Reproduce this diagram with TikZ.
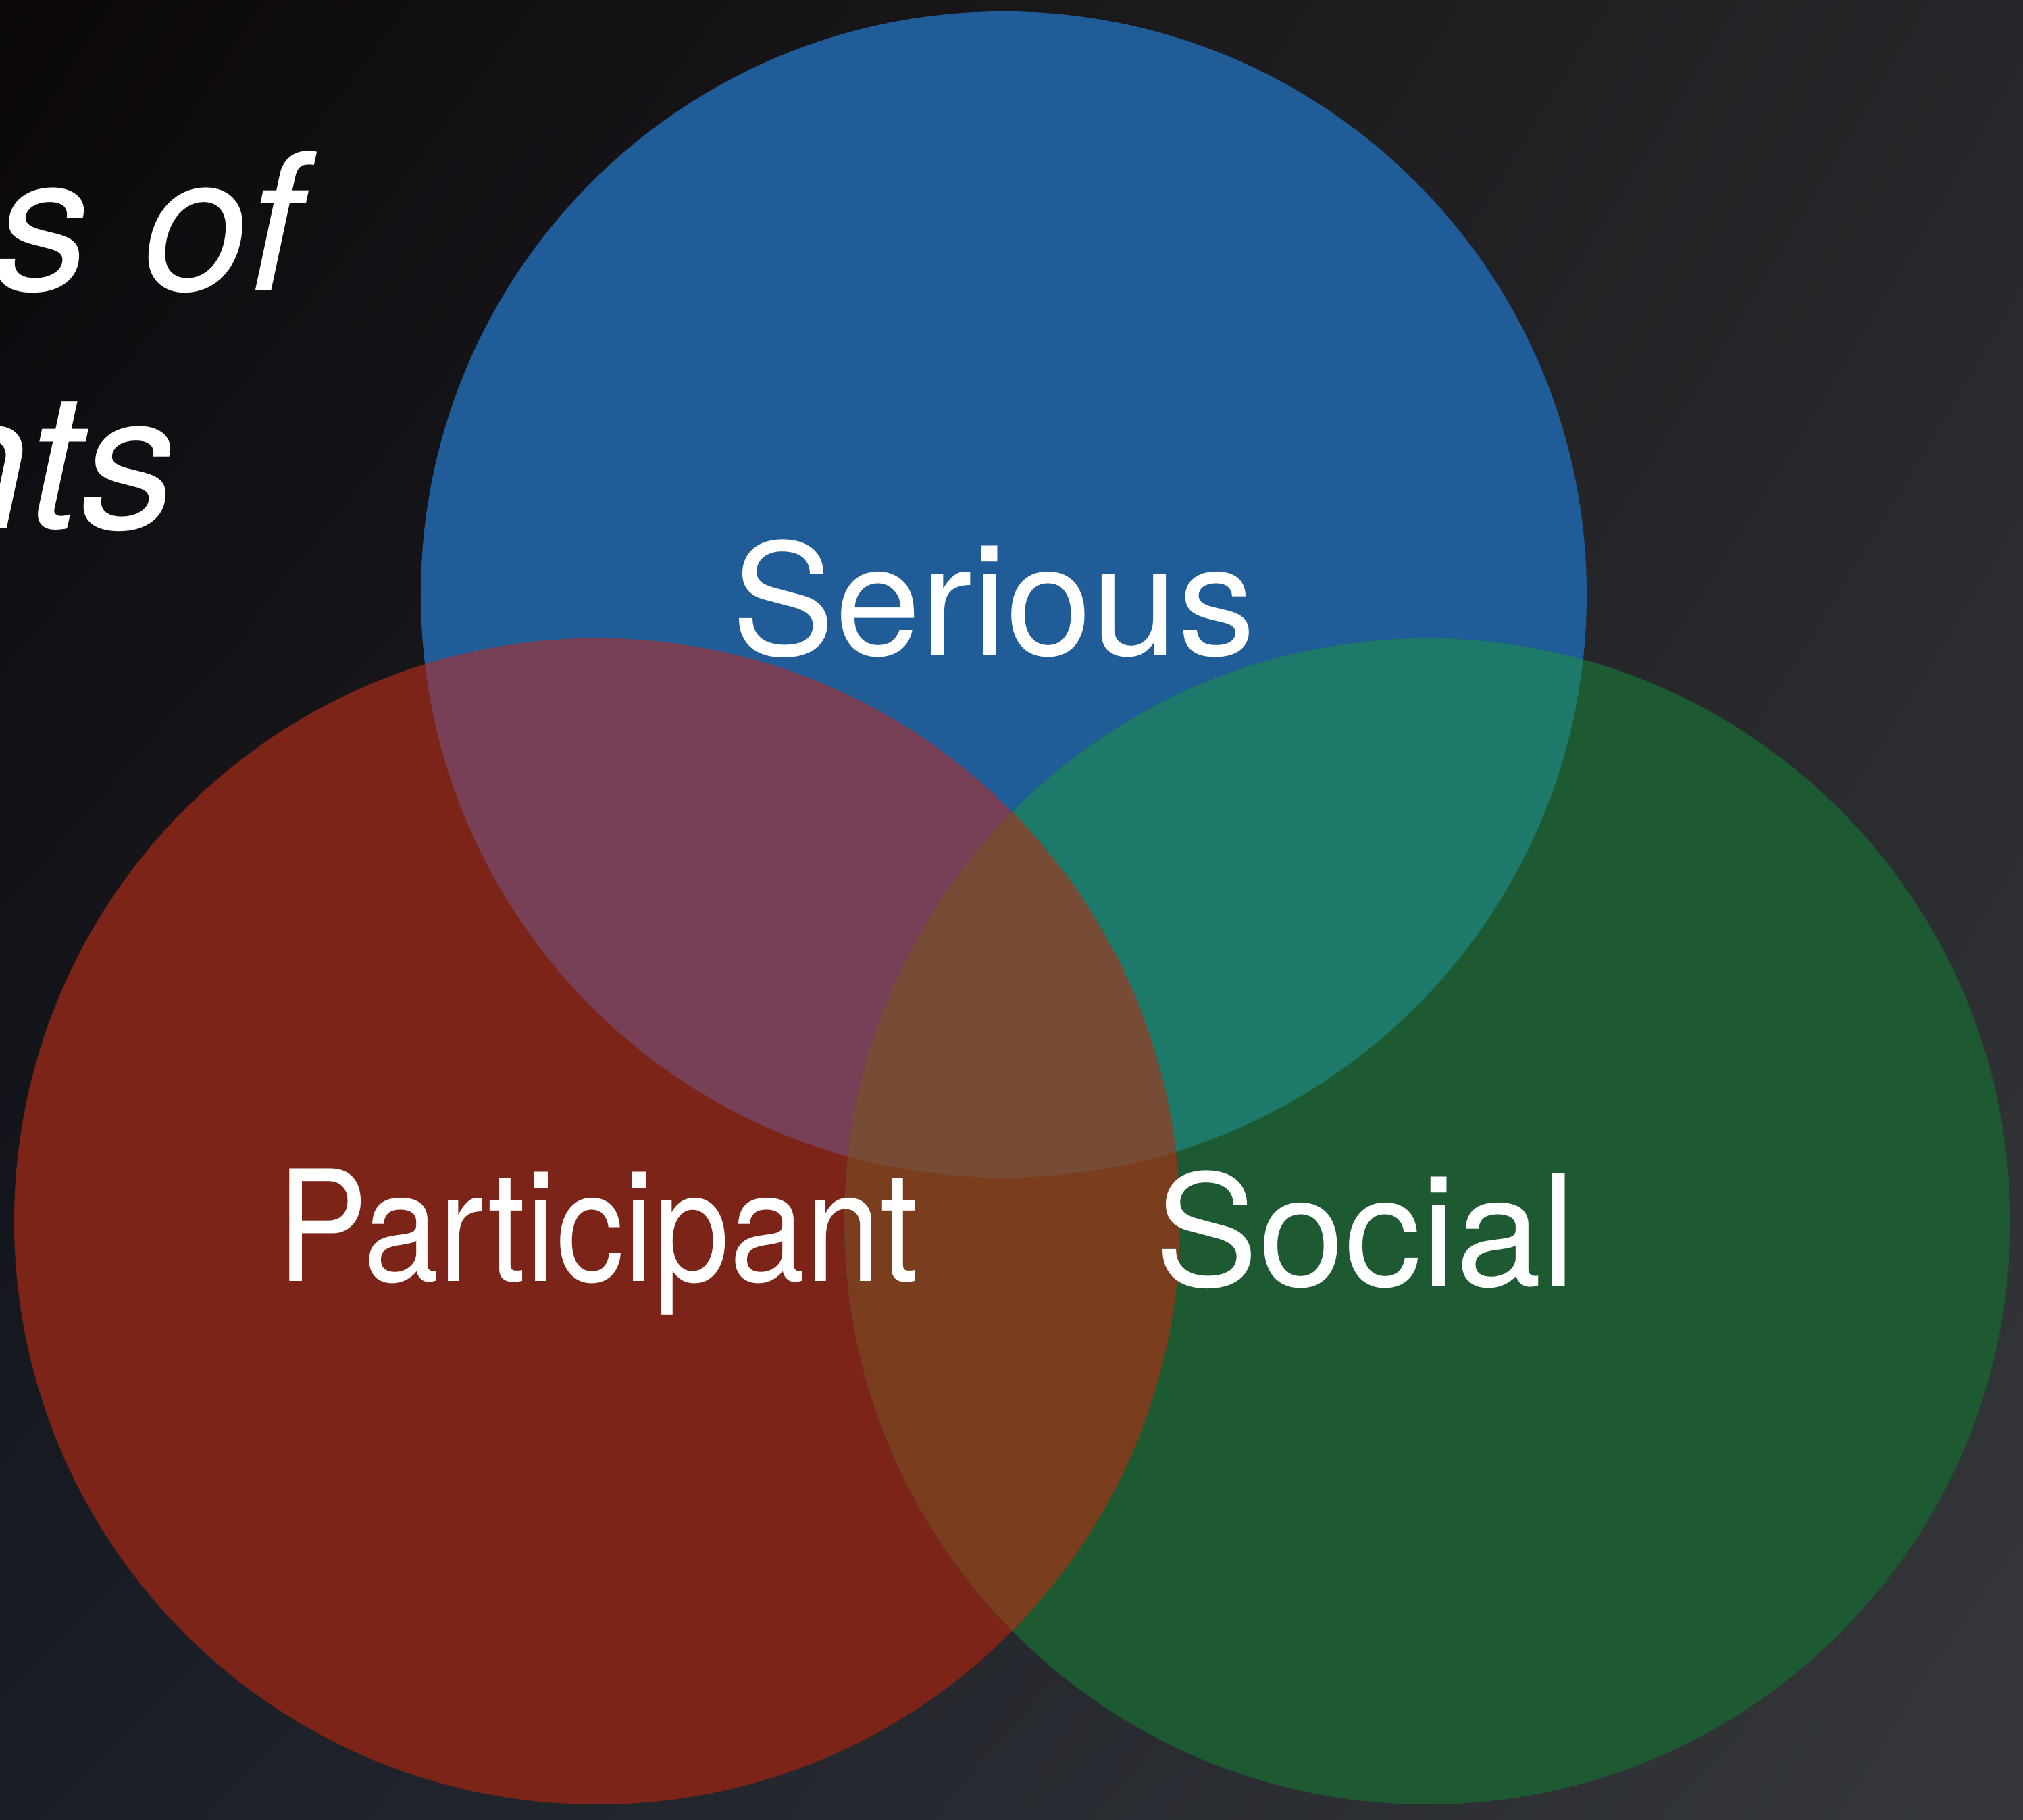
\documentclass[tikz,border=0pt]{standalone}
\usepackage{fontspec}
\setmainfont{TeX Gyre Heros}
\usetikzlibrary{shadings}
\definecolor{bgdark}{HTML}{0B070A}
\definecolor{bgmid}{HTML}{1A1E27}
\definecolor{bglight}{HTML}{35373A}
\definecolor{bgright}{HTML}{26272A}
\definecolor{serblue}{HTML}{1F5C98}
\definecolor{partred}{HTML}{7C2418}
\definecolor{socgreen}{HTML}{1D5A32}
\definecolor{serpart}{HTML}{774056}
\definecolor{sersoc}{HTML}{1D7A6A}
\definecolor{partsoc}{HTML}{7A3E1E}
\definecolor{allthree}{HTML}{764C36}
\tikzset{
  setlabel/.style={text=white,inner sep=0pt,anchor=base,font=\fontsize{65}{78}\selectfont},
  titlepart/.style={text=white,inner sep=0pt,font=\fontsize{80}{96}\selectfont\itshape}
}
\begin{document}
\begin{tikzpicture}
			\useasboundingbox(0,0)rectangle(29.95,26.94);
			\shade[upper left=bgdark,upper right=bgright,lower left=bgmid,lower right=bglight](0,0)rectangle(29.95,26.94);
			% sets
			\path[save path=\pathSer](14.86,18.14)circle(8.63cm);
			\path[save path=\pathPart](8.84,8.86)circle(8.63cm);
			\path[save path=\pathSoc](21.13,8.86)circle(8.63cm);
			\fill[serblue][use path=\pathSer];
			\fill[partred][use path=\pathPart];
			\fill[socgreen][use path=\pathSoc];
			\begin{scope}
				\clip[use path=\pathSer];
				\fill[serpart][use path=\pathPart];
				\fill[sersoc][use path=\pathSoc];
			\end{scope}
			\begin{scope}
				\clip[use path=\pathPart];
				\fill[partsoc][use path=\pathSoc];
			\end{scope}
			\begin{scope}
				\clip[use path=\pathSer];
				\clip[use path=\pathPart];
				\fill[allthree][use path=\pathSoc];
			\end{scope}
			% labels
			\node[setlabel](serious)at(14.71,17.24){Serious};
			\node[setlabel,xscale=0.88,transform shape](participant)at(8.85,7.97){Participant};
			\node[setlabel](social)at(20.22,7.90){Social};
			% title, cut off at the left edge
			\node[titlepart,anchor=base west](titleA)at(-0.08,22.64){s of};
			\node[titlepart,anchor=base east](titleB)at(2.62,19.11){nts};
		\end{tikzpicture}
\end{document}
